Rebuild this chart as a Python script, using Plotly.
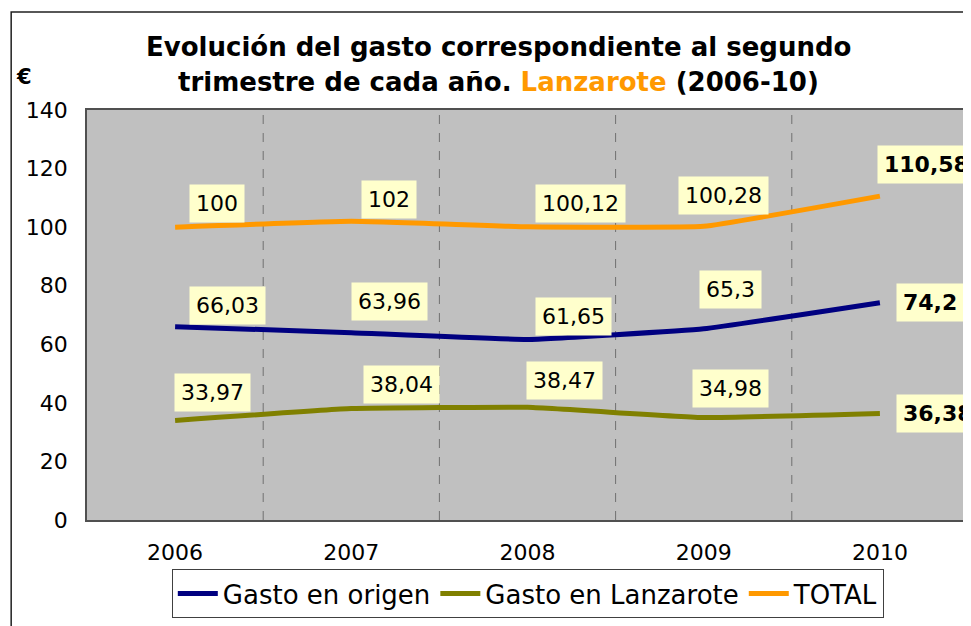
import plotly.graph_objects as go

years = ["2006", "2007", "2008", "2009", "2010"]
gasto_origen = [66.03, 63.96, 61.65, 65.3, 74.2]
gasto_lanzarote = [33.97, 38.04, 38.47, 34.98, 36.38]
total = [100, 102, 100.12, 100.28, 110.58]
y_ticks = [0, 20, 40, 60, 80, 100, 120, 140]

# label offsets (px) for the data labels
off_total = [(42, 24), (38, 22), (53, 23), (20, 31), (-3, 32)]
off_origen = [(52, 21), (38, 31), (46, 23), (27, 39), (16, 0)]
off_lanz = [(37, 28), (50, 24), (37, 27), (27, 29), (16, 0)]

def fmt(v):
    return ("%g" % v).replace(".", ",")

FONT = "DejaVu Sans"
fig = go.Figure()
series = [
    ("Gasto en origen", gasto_origen, "#000080", off_origen),
    ("Gasto en Lanzarote", gasto_lanzarote, "#808000", off_lanz),
    ("TOTAL", total, "#FF9900", off_total),
]
xs = list(range(len(years)))
for name, vals, col, offs in series:
    fig.add_trace(go.Scatter(
        x=xs, y=vals, name=name, mode="lines",
        line=dict(color=col, width=5, shape="spline", smoothing=0.3),
        cliponaxis=False,
    ))

annotations = []
for name, vals, col, offs in series:
    for i, v in enumerate(vals):
        last = i == len(vals) - 1
        dx, dy = offs[i]
        annotations.append(dict(
            x=xs[i], y=v, xref="x", yref="y",
            text=("<b>" + fmt(v) + "</b>") if last else fmt(v),
            showarrow=False, xanchor="left" if last else "center", yanchor="middle",
            xshift=dx, yshift=dy, bgcolor="#FFFFCC", borderpad=6,
            font=dict(family=FONT, size=22, color="black"),
        ))

# page is offset by the 8px body margin: work in page pixels
OFF = 8
W, H = 971 - OFF, 626 - OFF
ml, mt = 87 - OFF, 110 - OFF
pr, pb = 970 - OFF, 520 - OFF
mr, mb = W - pr, H - pb
pw, ph = pr - ml, pb - mt

def px(xp):
    return (xp - OFF - ml) / pw

def py(yp):
    return (pb - (yp - OFF)) / ph

annotations.append(dict(
    x=px(499), y=py(47), xref="paper", yref="paper",
    text="<b>Evolución del gasto correspondiente al segundo</b>",
    showarrow=False, xanchor="center", yanchor="middle",
    font=dict(family=FONT, size=26, color="black"),
))
annotations.append(dict(
    x=px(499), y=py(82), xref="paper", yref="paper",
    text="<b>trimestre de cada año. <span style='color:#FF9900'>Lanzarote</span> (2006-10)</b>",
    showarrow=False, xanchor="center", yanchor="middle",
    font=dict(family=FONT, size=26, color="black"),
))
annotations.append(dict(
    x=px(14), y=py(77), xref="paper", yref="paper", text="<b>€</b>",
    showarrow=False, xanchor="left", yanchor="middle",
    font=dict(family=FONT, size=21, color="black"),
))

shapes = []
for b in [0.5, 1.5, 2.5, 3.5]:
    shapes.append(dict(type="line", xref="x", yref="paper", x0=b, x1=b, y0=0, y1=1,
                       line=dict(color="#707070", width=1, dash="dash"), layer="below"))
shapes.append(dict(type="rect", xref="paper", yref="paper",
                   x0=px(11), x1=px(1000), y0=py(700), y1=py(12),
                   line=dict(color="#202020", width=1.5), fillcolor="rgba(0,0,0,0)"))

fig.update_layout(
    width=W, height=H,
    margin=dict(l=ml, r=mr, t=mt, b=mb),
    paper_bgcolor="white", plot_bgcolor="#C0C0C0",
    font=dict(family=FONT, size=22, color="black"),
    showlegend=True,
    legend=dict(orientation="h", x=px(172), y=py(569), xanchor="left", yanchor="top",
                bordercolor="#404040", borderwidth=1, bgcolor="white",
                font=dict(family=FONT, size=26, color="black"),
                itemwidth=40, tracegroupgap=0),
    annotations=annotations, shapes=shapes,
    xaxis=dict(range=[-0.5, 4.5], tickmode="array", tickvals=xs, ticktext=years,
               showgrid=False, zeroline=False, showline=True, linecolor="#505050",
               linewidth=1.5, mirror=True, ticks="outside", ticklen=12,
               tickcolor="rgba(0,0,0,0)", tickfont=dict(size=22)),
    yaxis=dict(range=[0, 140], tickmode="array", tickvals=y_ticks,
               showgrid=False, zeroline=False, showline=True, linecolor="#505050",
               linewidth=1.5, mirror=True, ticks="outside", ticklen=13,
               tickcolor="rgba(0,0,0,0)", tickfont=dict(size=22)),
)

fig.write_html("out.html")
